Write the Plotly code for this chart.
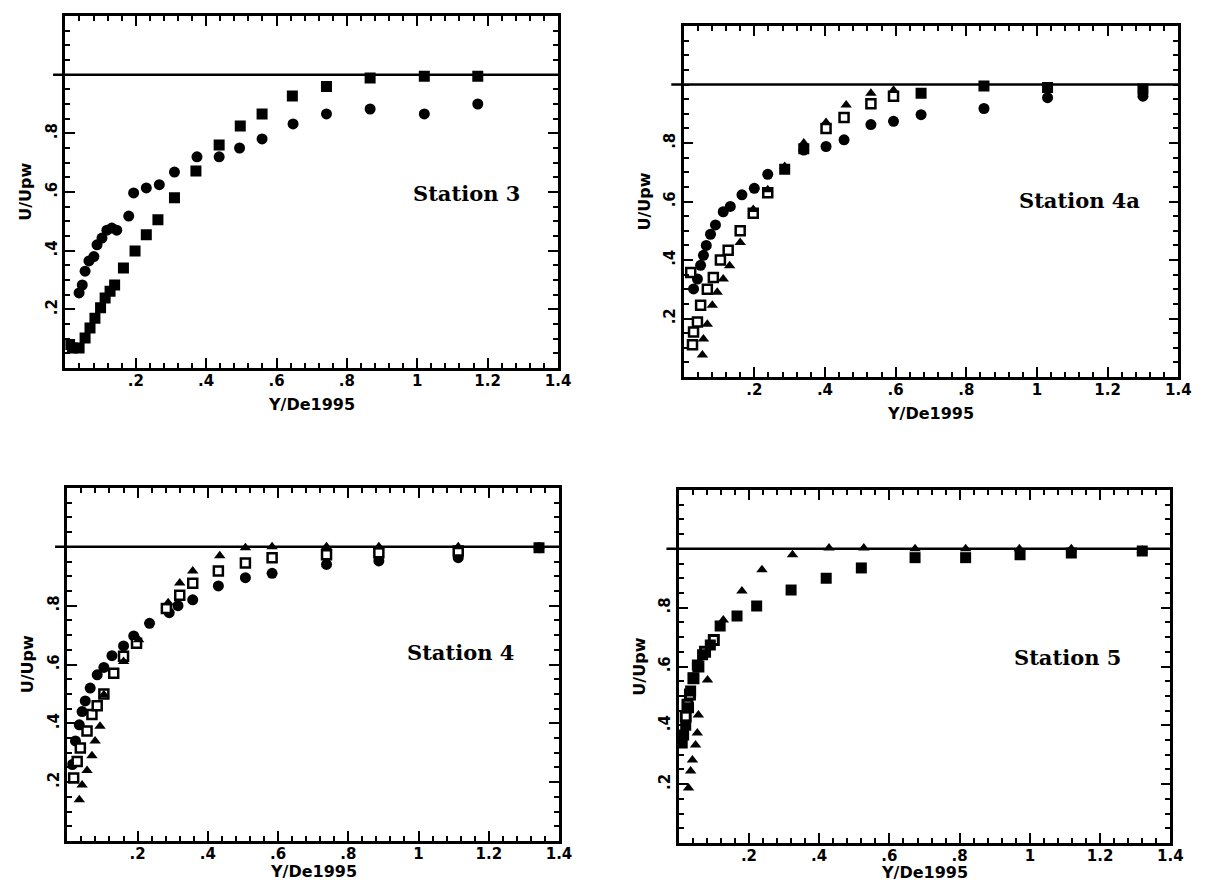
import plotly.graph_objects as go

# ---------------- data ----------------
x_tickvals = [0.2, 0.4, 0.6, 0.8, 1.0, 1.2, 1.4]
x_ticktext = [".2", ".4", ".6", ".8", "1", "1.2", "1.4"]
y_tickvals = [0.2, 0.4, 0.6, 0.8]
y_ticktext = [".2", ".4", ".6", ".8"]
unity = 1.0
x_title = "Y/De1995"
y_title = "U/Upw"

stations = ["Station 3", "Station 4a", "Station 4", "Station 5"]

# Station 3
s3_circ_x = [0.039, 0.048, 0.056, 0.067, 0.081, 0.090, 0.104, 0.118, 0.132, 0.146, 0.180, 0.194, 0.230, 0.267, 0.310, 0.374, 0.437, 0.495, 0.559, 0.647, 0.742, 0.866, 1.020, 1.172]
s3_circ_y = [0.256, 0.283, 0.330, 0.365, 0.380, 0.420, 0.443, 0.470, 0.477, 0.470, 0.518, 0.597, 0.614, 0.625, 0.668, 0.720, 0.720, 0.750, 0.781, 0.832, 0.866, 0.883, 0.866, 0.900]
s3_sq_x = [0.012, 0.020, 0.039, 0.056, 0.070, 0.084, 0.100, 0.113, 0.127, 0.140, 0.165, 0.198, 0.230, 0.263, 0.310, 0.371, 0.437, 0.497, 0.559, 0.645, 0.742, 0.866, 1.020, 1.172]
s3_sq_y = [0.080, 0.068, 0.068, 0.102, 0.136, 0.170, 0.205, 0.239, 0.262, 0.283, 0.341, 0.399, 0.454, 0.505, 0.580, 0.672, 0.760, 0.825, 0.866, 0.927, 0.960, 0.989, 0.995, 0.995]

# Station 4a
s4a_circ_x = [0.028, 0.039, 0.048, 0.056, 0.064, 0.076, 0.090, 0.112, 0.132, 0.165, 0.200, 0.238, 0.340, 0.403, 0.454, 0.530, 0.594, 0.672, 0.850, 1.030, 1.300]
s4a_circ_y = [0.301, 0.335, 0.382, 0.416, 0.450, 0.488, 0.520, 0.565, 0.583, 0.623, 0.645, 0.693, 0.776, 0.788, 0.811, 0.863, 0.874, 0.897, 0.918, 0.955, 0.960]
s4a_open_x = [0.020, 0.025, 0.028, 0.039, 0.048, 0.067, 0.084, 0.104, 0.126, 0.160, 0.197, 0.238, 0.403, 0.454, 0.530, 0.594]
s4a_open_y = [0.357, 0.110, 0.154, 0.188, 0.245, 0.300, 0.340, 0.400, 0.433, 0.500, 0.560, 0.630, 0.850, 0.887, 0.934, 0.960]
s4a_tri_x = [0.053, 0.056, 0.067, 0.081, 0.095, 0.112, 0.130, 0.160, 0.197, 0.238, 0.286, 0.340, 0.403, 0.460, 0.530, 0.594]
s4a_tri_y = [0.075, 0.130, 0.180, 0.245, 0.290, 0.335, 0.380, 0.460, 0.573, 0.640, 0.720, 0.800, 0.870, 0.930, 0.970, 0.980]
s4a_sq_x = [0.286, 0.340, 0.672, 0.850, 1.030, 1.300]
s4a_sq_y = [0.710, 0.780, 0.970, 0.995, 0.990, 0.985]

# Station 4
s4_circ_x = [0.014, 0.023, 0.034, 0.042, 0.051, 0.065, 0.085, 0.104, 0.127, 0.160, 0.189, 0.234, 0.290, 0.315, 0.357, 0.430, 0.507, 0.583, 0.738, 0.887, 1.113, 1.343]
s4_circ_y = [0.260, 0.340, 0.395, 0.440, 0.476, 0.520, 0.565, 0.590, 0.630, 0.663, 0.697, 0.740, 0.776, 0.800, 0.820, 0.867, 0.895, 0.910, 0.940, 0.952, 0.963, 0.997]
s4_open_x = [0.018, 0.028, 0.037, 0.056, 0.070, 0.085, 0.104, 0.132, 0.160, 0.197, 0.282, 0.320, 0.357, 0.430, 0.507, 0.583, 0.738, 0.887, 1.113]
s4_open_y = [0.214, 0.270, 0.316, 0.374, 0.430, 0.460, 0.500, 0.570, 0.628, 0.672, 0.790, 0.835, 0.876, 0.918, 0.945, 0.963, 0.973, 0.980, 0.986]
s4_tri_x = [0.034, 0.042, 0.056, 0.070, 0.079, 0.093, 0.104, 0.160, 0.203, 0.287, 0.320, 0.357, 0.434, 0.507, 0.583, 0.738, 0.887, 1.113]
s4_tri_y = [0.140, 0.190, 0.240, 0.290, 0.340, 0.390, 0.497, 0.610, 0.684, 0.810, 0.877, 0.918, 0.970, 0.997, 1.000, 1.000, 1.000, 1.000]
s4_sq_x = [1.343]
s4_sq_y = [0.997]

# Station 5
s5_tri_x = [0.028, 0.034, 0.039, 0.048, 0.053, 0.056, 0.082, 0.127, 0.180, 0.237, 0.324, 0.428, 0.527, 0.673, 0.817, 0.970, 1.118, 1.320]
s5_tri_y = [0.187, 0.245, 0.282, 0.333, 0.374, 0.435, 0.554, 0.758, 0.857, 0.929, 0.980, 1.003, 1.003, 1.000, 1.000, 1.000, 1.000, 0.995]
s5_sq_x = [0.010, 0.014, 0.020, 0.028, 0.034, 0.042, 0.053, 0.068, 0.090, 0.118, 0.166, 0.222, 0.320, 0.420, 0.520, 0.673, 0.817, 0.972, 1.118, 1.320]
s5_sq_y = [0.340, 0.367, 0.400, 0.460, 0.517, 0.560, 0.605, 0.640, 0.673, 0.738, 0.772, 0.806, 0.860, 0.900, 0.935, 0.970, 0.970, 0.980, 0.986, 0.993]
s5_open_x = [0.020, 0.025, 0.032, 0.042, 0.056, 0.075, 0.100]
s5_open_y = [0.430, 0.470, 0.505, 0.560, 0.600, 0.650, 0.690]

# ---------------- layout geometry (pixels) ----------------
W, H = 1209, 883
panels = [  # left, right, top, bottom
    (58, 556, 8, 360),
    (683, 1183, 18, 369),
    (60, 557, 480, 833),
    (678, 1175, 482, 835),
]
xtitle_gap = [36, 36, 30, 29]
label_pos = [(1.14, 0.595), (1.12, 0.605), (1.12, 0.64), (1.107, 0.63)]

series = [
    [("circ", s3_circ_x, s3_circ_y), ("sq", s3_sq_x, s3_sq_y)],
    [("circ", s4a_circ_x, s4a_circ_y), ("sq", s4a_sq_x, s4a_sq_y),
     ("open", s4a_open_x, s4a_open_y), ("tri", s4a_tri_x, s4a_tri_y)],
    [("circ", s4_circ_x, s4_circ_y), ("sq", s4_sq_x, s4_sq_y),
     ("open", s4_open_x, s4_open_y), ("tri", s4_tri_x, s4_tri_y)],
    [("open5", s5_open_x, s5_open_y), ("sq", s5_sq_x, s5_sq_y),
     ("tri", s5_tri_x, s5_tri_y)],
]

styles = {
    "circ": dict(symbol="circle", size=11, color="black", line=dict(width=0)),
    "sq": dict(symbol="square", size=11, color="black", line=dict(width=0)),
    "open": dict(symbol="square", size=9, color="white", line=dict(width=2.5, color="black")),
    "open5": dict(symbol="square", size=9, color="white", line=dict(width=3, color="black")),
    "tri": dict(symbol="triangle-up", size=10, color="black", line=dict(width=0)),
}

fig = go.Figure()
tickfont = dict(family="DejaVu Sans", size=15, color="black", weight="bold")
titlefont = dict(family="DejaVu Sans", size=16, color="black", weight="bold")

layout = dict(
    width=W, height=H, margin=dict(l=0, r=0, t=0, b=0),
    paper_bgcolor="white", plot_bgcolor="white", showlegend=False,
    shapes=[], annotations=[],
)

for i, (l, r, t, b) in enumerate(panels):
    n = "" if i == 0 else str(i + 1)
    m = str(i + 5)  # overlay axes carrying the minor ticks
    xa, ya = "x" + n, "y" + n
    xdom = [l / W, r / W]
    ydom = [1 - b / H, 1 - t / H]
    layout["xaxis" + n] = dict(
        domain=xdom, anchor=ya, range=[0, 1.4],
        tickmode="array", tickvals=x_tickvals, ticktext=x_ticktext,
        ticks="inside", ticklen=10, tickwidth=2, tickcolor="black",
        showline=True, linewidth=2.5, linecolor="black", mirror="allticks",
        showgrid=False, zeroline=False, tickfont=tickfont, ticklabelstandoff=-3,
    )
    layout["yaxis" + n] = dict(
        domain=ydom, anchor=xa, range=[0, 1.2],
        tickmode="array", tickvals=y_tickvals, ticktext=y_ticktext,
        tickangle=-90,
        ticks="inside", ticklen=10, tickwidth=2, tickcolor="black",
        showline=True, linewidth=2.5, linecolor="black", mirror="allticks",
        showgrid=False, zeroline=False, tickfont=tickfont,
    )
    # minor-tick overlay axes
    layout["xaxis" + m] = dict(
        domain=xdom, anchor=ya, overlaying=xa, range=[0, 1.4],
        tickmode="linear", tick0=0, dtick=0.04, ticks="inside", ticklen=5,
        tickwidth=2, tickcolor="black", showticklabels=False, showline=False,
        mirror="allticks", showgrid=False, zeroline=False, side="bottom",
    )
    layout["yaxis" + m] = dict(
        domain=ydom, anchor=xa, overlaying=ya, range=[0, 1.2],
        tickmode="linear", tick0=0, dtick=0.05, ticks="inside", ticklen=5,
        tickwidth=2, tickcolor="black", showticklabels=False, showline=False,
        mirror="allticks", showgrid=False, zeroline=False, side="left",
    )
    layout["shapes"].append(dict(
        type="line", xref=xa + " domain", yref=ya, x0=-0.025, x1=1.0,
        y0=unity, y1=unity, line=dict(color="black", width=2.5)))
    lx, ly = label_pos[i]
    layout["annotations"].append(dict(
        text=stations[i], xref=xa, yref=ya, x=lx, y=ly, showarrow=False,
        font=dict(family="DejaVu Serif", size=21, color="black", weight="bold")))
    # axis titles
    layout["annotations"].append(dict(
        text=x_title, xref="paper", yref="paper", x=(l + r) / 2 / W,
        y=1 - (b + xtitle_gap[i]) / H, yanchor="middle", xanchor="center",
        showarrow=False, borderpad=0, font=titlefont))
    layout["annotations"].append(dict(
        text=y_title, xref="paper", yref="paper", x=(l - 40) / W,
        y=1 - (t + b) / 2 / H, yanchor="middle", xanchor="center", showarrow=False,
        textangle=-90, font=titlefont))
    for kind, xs, ys in series[i]:
        fig.add_trace(go.Scatter(x=xs, y=ys, mode="markers", xaxis=xa, yaxis=ya,
                                 marker=styles[kind], hoverinfo="skip"))
    # invisible trace so that overlay axes are drawn
    fig.add_trace(go.Scatter(x=[None], y=[None], mode="markers",
                             xaxis="x" + m, yaxis="y" + m, hoverinfo="skip"))

fig.update_layout(**layout)
fig.write_html("out.html")
